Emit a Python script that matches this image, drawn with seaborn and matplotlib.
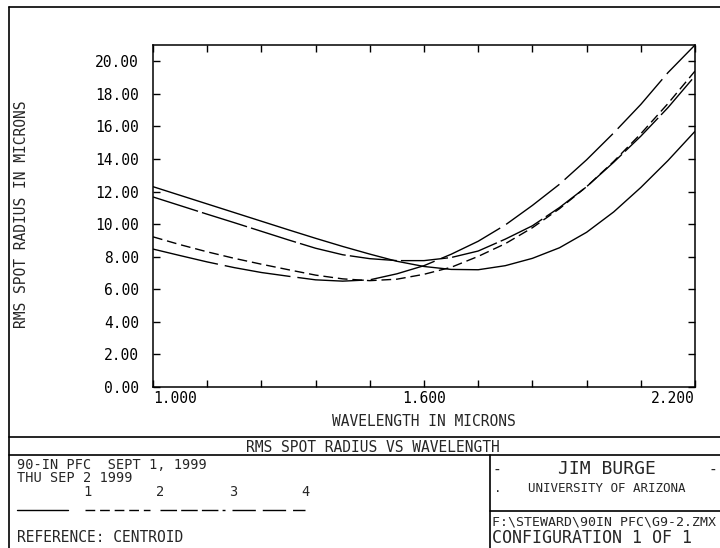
import matplotlib
matplotlib.use("Agg")
import matplotlib.pyplot as plt
import seaborn as sns
import pandas as pd
from matplotlib.lines import Line2D

# ---------------- data ----------------
wavelengths = [1.00, 1.06, 1.12, 1.18, 1.24, 1.30, 1.36, 1.42, 1.48, 1.54, 1.60,
               1.66, 1.72, 1.78, 1.84, 1.90, 1.96, 2.02, 2.08, 2.14, 2.20]
rms_cfg1 = [12.30, 11.77, 11.24, 10.71, 10.18, 9.65, 9.13, 8.63, 8.16, 7.72, 7.40,
            7.22, 7.20, 7.45, 7.90, 8.55, 9.50, 10.75, 12.25, 13.90, 15.70]
rms_cfg2 = [9.22, 8.74, 8.30, 7.90, 7.54, 7.20, 6.87, 6.64, 6.53, 6.62, 6.92,
            7.35, 8.02, 8.80, 9.78, 10.95, 12.30, 13.85, 15.55, 17.40, 19.40]
rms_cfg3 = [11.67, 11.14, 10.61, 10.09, 9.56, 9.03, 8.52, 8.12, 7.88, 7.76, 7.76,
            7.95, 8.35, 9.08, 9.90, 11.02, 12.30, 13.80, 15.40, 17.15, 19.10]
rms_cfg4 = [8.47, 8.07, 7.68, 7.33, 7.03, 6.80, 6.58, 6.50, 6.58, 6.95, 7.45,
            8.15, 8.95, 9.95, 11.15, 12.45, 13.95, 15.60, 17.35, 19.30, 21.00]
series_names = ["1", "2", "3", "4"]
x_tick_values = [1.00, 1.12, 1.24, 1.36, 1.48, 1.60, 1.72, 1.84, 1.96, 2.08, 2.20]
x_tick_labels = ["1.000", "", "", "", "", "1.600", "", "", "", "", "2.200"]
y_tick_values = [0, 2, 4, 6, 8, 10, 12, 14, 16, 18, 20]

# ---------------- style ----------------
sns.set_style("ticks")
plt.rcParams["font.family"] = ["DejaVu Sans Mono", "DejaVu Sans"]
plt.rcParams["axes.linewidth"] = 1.1

W, H = 720, 548
fig = plt.figure(figsize=(W / 100, H / 100), dpi=100)
fig.patch.set_facecolor("white")

def fx(px):
    return px / W

def fy(py):
    return 1 - py / H

# axes in pixel geometry
L, R, T, B = 153, 695, 45, 387
ax = fig.add_axes([fx(L), fy(B), fx(R) - fx(L), fy(T) - fy(B)])

frames = []
for name, vals in zip(series_names, [rms_cfg1, rms_cfg2, rms_cfg3, rms_cfg4]):
    frames.append(pd.DataFrame({"wl": wavelengths, "rms": vals, "cfg": name}))
df = pd.concat(frames, ignore_index=True)

dash_map = {"1": "", "2": (7, 3.5), "3": (34, 3), "4": (48, 5)}
sns.lineplot(data=df, x="wl", y="rms", style="cfg", dashes=dash_map,
             color="black", linewidth=1.0, legend=False, ax=ax,
             estimator=None, sort=False)

ax.set_xlim(1.0, 2.2)
ax.set_ylim(0, 21)
ax.set_xticks(x_tick_values)
ax.set_xticklabels(x_tick_labels)
ax.set_yticks(y_tick_values)
ax.set_yticklabels([f"{v:.2f}" for v in y_tick_values])
ax.tick_params(direction="in", length=5, width=1, top=True, right=True,
               labelsize=10.5, colors="black")
ax.tick_params(axis="y", pad=10)
ax.tick_params(axis="x", pad=3)
labs = ax.get_xticklabels()
labs[0].set_ha("left")
labs[-1].set_ha("right")
ax.set_xlabel("")
ax.set_ylabel("")
for s in ax.spines.values():
    s.set_visible(True)
    s.set_color("black")

# axis titles
fig.text(fx(424), fy(421), "WAVELENGTH IN MICRONS", ha="center", va="center", fontsize=10.5)
fig.text(fx(22), fy(214), "RMS SPOT RADIUS IN MICRONS", ha="center", va="center",
         rotation=90, fontsize=10.5)

# frame lines
def hline(y, x0, x1, lw=1.2):
    fig.add_artist(Line2D([fx(x0), fx(x1)], [fy(y), fy(y)], transform=fig.transFigure,
                          color="black", linewidth=lw))

def vline(x, y0, y1, lw=1.2):
    fig.add_artist(Line2D([fx(x), fx(x)], [fy(y0), fy(y1)], transform=fig.transFigure,
                          color="black", linewidth=lw))

hline(7, 9, 720)
vline(9, 7, 548)
hline(437, 9, 720)
hline(455, 9, 720)
vline(490, 455, 548)
hline(511, 490, 720)

# title block
fig.text(fx(373), fy(447), "RMS SPOT RADIUS VS WAVELENGTH", ha="center", va="center", fontsize=10.5)
fig.text(fx(17), fy(465), "90-IN PFC  SEPT 1, 1999", ha="left", va="center", fontsize=9.8)
fig.text(fx(17), fy(477.5), "THU SEP 2 1999", ha="left", va="center", fontsize=9.8)
for name, xc in zip(series_names, [87, 160, 233, 305]):
    fig.text(fx(xc), fy(492), name, ha="center", va="center", fontsize=9.8)

# legend line samples
legend_spans = {"1": (17, 68), "2": (85, 150), "3": (160, 225), "4": (232, 305)}
for name in series_names:
    x0, x1 = legend_spans[name]
    d = dash_map[name]
    ln = Line2D([fx(x0), fx(x1)], [fy(510), fy(510)], transform=fig.transFigure,
                color="black", linewidth=1.0)
    if d:
        ln.set_dashes((d[0] * 0.35, d[1]) if name != "2" else d)
    fig.add_artist(ln)

fig.text(fx(17), fy(537), "REFERENCE: CENTROID", ha="left", va="center", fontsize=10.5)

fig.text(fx(497), fy(469), "-", ha="center", va="center", fontsize=10.5)
fig.text(fx(713), fy(469), "-", ha="center", va="center", fontsize=10.5)
fig.text(fx(607), fy(469), "JIM BURGE", ha="center", va="center", fontsize=13)
fig.text(fx(498), fy(489), ".", ha="center", va="center", fontsize=9)
fig.text(fx(607), fy(489), "UNIVERSITY OF ARIZONA", ha="center", va="center", fontsize=9)
fig.text(fx(492), fy(522), "F:\\STEWARD\\90IN PFC\\G9-2.ZMX", ha="left", va="center", fontsize=9.5)
fig.text(fx(492), fy(538), "CONFIGURATION 1 OF 1", ha="left", va="center", fontsize=12)

fig.savefig("out.png", dpi=100, facecolor="white")
